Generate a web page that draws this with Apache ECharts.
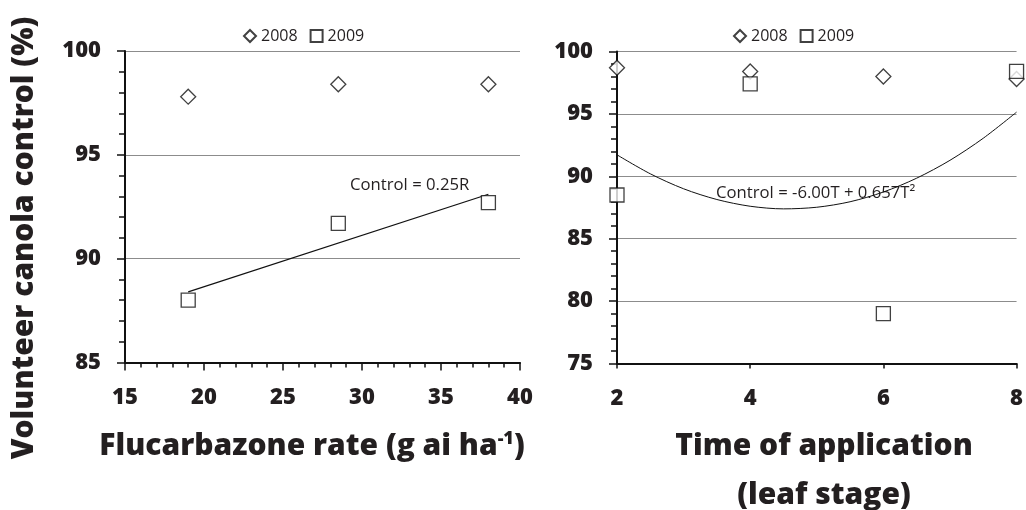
<!DOCTYPE html>
<html>
<head>
<meta charset="utf-8">
<script src="https://cdn.jsdelivr.net/npm/echarts/dist/echarts.min.js"></script>
<style>
html,body{margin:0;padding:0;background:#fff;}
#c{width:1026px;height:510px;}
</style>
</head>
<body>
<div id="c"></div>
<script>
// ---- data ----
const rateX = [19, 28.5, 38];
const rate2008 = [97.8, 98.4, 98.4];
const rate2009 = [88.0, 91.7, 92.7];
const rateFitX = [19, 38];
const rateFitY = [88.4, 93.1];

const stageX = [2, 4, 6, 8];
const stage2008 = [98.7, 98.4, 98.0, 97.8];
const stage2009 = [88.5, 97.4, 79.0, 98.4];
const stageFitX = [2, 2.5, 3, 3.5, 4, 4.5, 5, 5.5, 6, 6.5, 7, 7.5, 8];
const stageFitY = [91.72, 90.20, 89.00, 88.14, 87.60, 87.39, 87.52, 87.96, 88.74, 89.85, 91.28, 93.05, 95.14];

const seriesNames = ['2008', '2009'];
const yTitle = 'Volunteer canola control (%)';
const leftEq = 'Control = 0.25R';
const rightEq = 'Control = -6.00T + 0.657T\u00B2';

const FONT = '"Open Sans", "Noto Sans", sans-serif';
const TXT = '#231f20';
const HEAVY = 800;

const zip = (xs, ys) => xs.map((x, i) => [x, ys[i]]);

const chart = echarts.init(document.getElementById('c'), null, {renderer: 'canvas'});

function yAxisCfg(gi, min, max) {
  return {
    type: 'value', gridIndex: gi, min: min, max: max, interval: 5,
    axisLine: {show: true, lineStyle: {color: '#111', width: 2}},
    axisTick: {show: true, inside: false, length: 8, lineStyle: {color: '#111', width: 1.5}},
    minorTick: {show: true, splitNumber: 5, length: 6, lineStyle: {color: '#111', width: 1.5}},
    axisLabel: {margin: 24, fontFamily: FONT, fontWeight: HEAVY, fontSize: 22, color: TXT},
    splitLine: {show: true, lineStyle: {color: '#8c8c8c', width: 1}}
  };
}

const option = {
  backgroundColor: '#fff',
  animation: false,
  textStyle: {fontFamily: FONT},
  grid: [
    {left: 125, top: 51, width: 395, height: 311.5},
    {left: 617, top: 51.5, width: 402, height: 312}
  ],
  legend: [
    {data: seriesNames, left: 238, top: 23, itemWidth: 12, itemHeight: 12, itemGap: 12,
     textStyle: {fontFamily: FONT, fontSize: 16, color: TXT}},
    {data: seriesNames, left: 728, top: 23, itemWidth: 12, itemHeight: 12, itemGap: 12,
     textStyle: {fontFamily: FONT, fontSize: 16, color: TXT}}
  ],
  xAxis: [
    {type: 'value', gridIndex: 0, min: 15, max: 40, interval: 5,
     axisLine: {show: true, onZero: false, lineStyle: {color: '#111', width: 2}},
     axisTick: {show: true, length: 8, lineStyle: {color: '#111', width: 1.5}},
     minorTick: {show: true, splitNumber: 5, length: 5, lineStyle: {color: '#111', width: 1.5}},
     axisLabel: {margin: 24, fontFamily: FONT, fontWeight: HEAVY, fontSize: 22, color: TXT},
     splitLine: {show: false}},
    {type: 'value', gridIndex: 1, min: 2, max: 8, interval: 2,
     axisLine: {show: true, onZero: false, lineStyle: {color: '#111', width: 2}},
     axisTick: {show: true, length: 5, lineStyle: {color: '#111', width: 1.5}},
     minorTick: {show: false},
     axisLabel: {margin: 24, fontFamily: FONT, fontWeight: HEAVY, fontSize: 22, color: TXT},
     splitLine: {show: false}}
  ],
  yAxis: [yAxisCfg(0, 85, 100), yAxisCfg(1, 75, 100)],
  series: [
    {name: '2008', type: 'scatter', xAxisIndex: 0, yAxisIndex: 0, data: zip(rateX, rate2008),
     symbol: 'diamond', symbolSize: 15, clip: false,
     itemStyle: {color: '#fff', borderColor: '#111', borderWidth: 1.3}},
    {name: '2009', type: 'scatter', xAxisIndex: 0, yAxisIndex: 0, data: zip(rateX, rate2009),
     symbol: 'rect', symbolSize: 14, clip: false,
     itemStyle: {color: '#fff', borderColor: '#111', borderWidth: 1.3}},
    {name: 'fitRate', type: 'line', xAxisIndex: 0, yAxisIndex: 0, data: zip(rateFitX, rateFitY),
     symbol: 'none', lineStyle: {color: '#111', width: 1.2}, z: 1, silent: true},
    {name: '2008', type: 'scatter', xAxisIndex: 1, yAxisIndex: 1, data: zip(stageX, stage2008),
     symbol: 'diamond', symbolSize: 15, clip: false,
     itemStyle: {color: '#fff', borderColor: '#111', borderWidth: 1.3}},
    {name: '2009', type: 'scatter', xAxisIndex: 1, yAxisIndex: 1, data: zip(stageX, stage2009),
     symbol: 'rect', symbolSize: 14, clip: false,
     itemStyle: {color: '#fff', borderColor: '#111', borderWidth: 1.3}},
    {name: 'fitStage', type: 'line', xAxisIndex: 1, yAxisIndex: 1, data: zip(stageFitX, stageFitY),
     symbol: 'none', smooth: 0.3, lineStyle: {color: '#111', width: 1}, z: 1, silent: true}
  ],
  graphic: [
    {type: 'text', left: 350, top: 177, silent: true,
     style: {text: leftEq, fontFamily: FONT, fontSize: 16.7, fill: TXT}},
    {type: 'text', left: 716, top: 185, silent: true,
     style: {text: rightEq, fontFamily: FONT, fontSize: 16.7, fill: TXT}},
    {type: 'text', x: 24, y: 238, rotation: Math.PI / 2, silent: true,
     style: {text: yTitle, fontFamily: FONT, fontWeight: HEAVY, fontSize: 30, fill: TXT,
             align: 'center', verticalAlign: 'middle'}},
    {type: 'text', x: 312, y: 446, silent: true,
     style: {text: 'Flucarbazone rate (g ai ha{sup|-1})', fontFamily: FONT, fontWeight: HEAVY,
             fontSize: 30, fill: TXT, align: 'center', verticalAlign: 'middle',
             rich: {sup: {fontFamily: FONT, fontWeight: HEAVY, fontSize: 18, fill: TXT, verticalAlign: 'top', padding: [0, 0, 15, 0]}}}},
    {type: 'text', x: 824, y: 446, silent: true,
     style: {text: 'Time of application', fontFamily: FONT, fontWeight: HEAVY, fontSize: 30, fill: TXT,
             align: 'center', verticalAlign: 'middle'}},
    {type: 'text', x: 824, y: 495, silent: true,
     style: {text: '(leaf stage)', fontFamily: FONT, fontWeight: HEAVY, fontSize: 30, fill: TXT,
             align: 'center', verticalAlign: 'middle'}}
  ]
};
chart.setOption(option);
</script>
</body>
</html>
